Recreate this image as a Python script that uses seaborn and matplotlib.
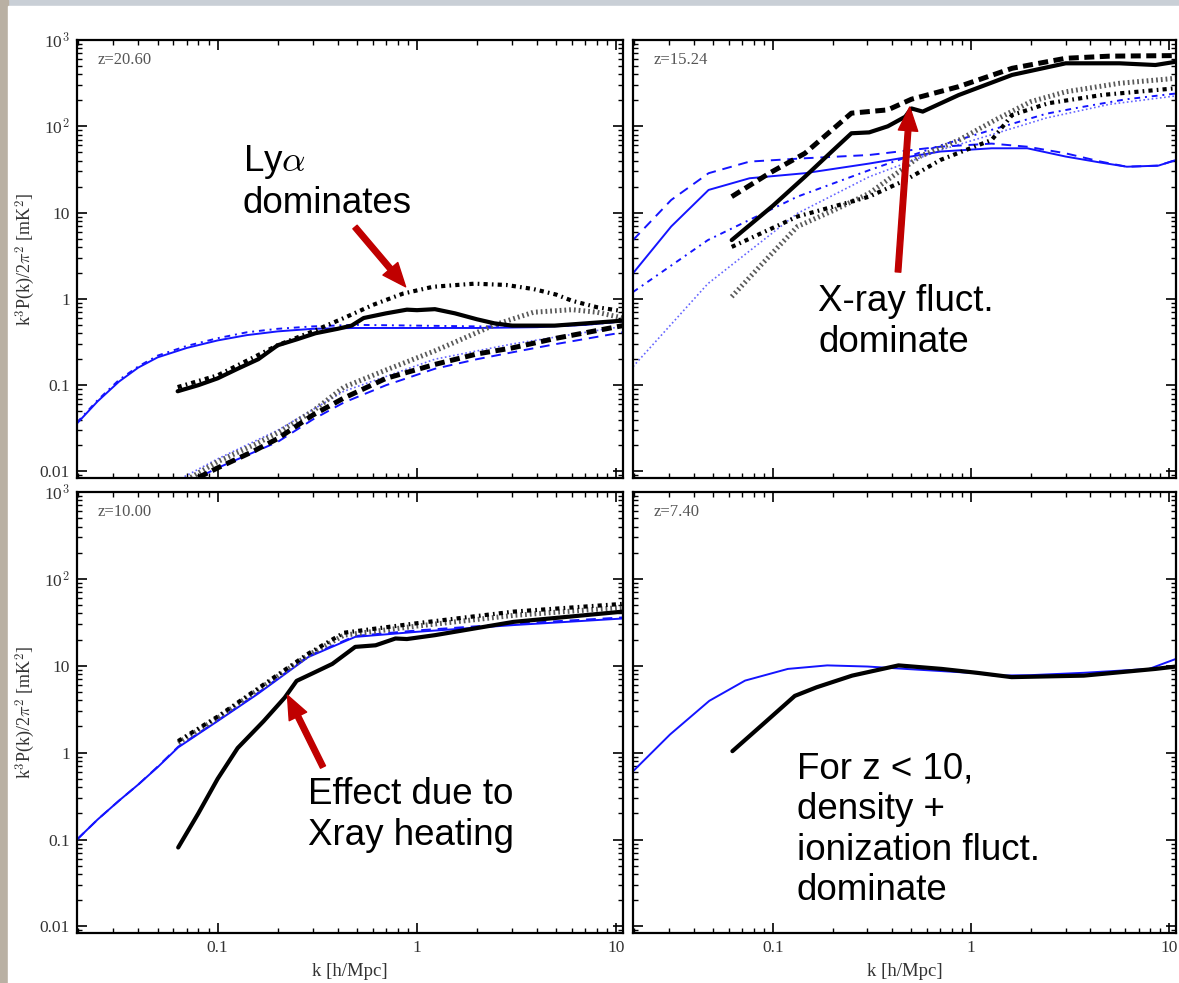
import matplotlib
matplotlib.use("Agg")
import matplotlib.pyplot as plt
from matplotlib.patches import Rectangle
from matplotlib.ticker import FixedLocator, LogLocator, NullFormatter
import seaborn as sns

# ---------------- data ----------------
panel_labels = ["z=20.60", "z=15.24", "z=10.00", "z=7.40"]
ytick_vals = [0.01, 0.1, 1, 10, 100, 1000]
ytick_labels = ["0.01", "0.1", "1", "10", "10$^2$", "10$^3$"]
xtick_vals = [0.1, 1, 10]
xtick_labels = ["0.1", "1", "10"]
xlabel_text = "k [h/Mpc]"
ylabel_text = "k$^3$P(k)/2$\\pi^2$ [mK$^2$]"

# --- panel 1 : z = 20.60
p1_blk_solid_k = [0.063, 0.08, 0.1, 0.126, 0.16, 0.2, 0.25, 0.31, 0.4, 0.47, 0.54, 0.7, 0.89, 1.0, 1.23, 1.55, 2.0, 2.45, 3.0, 4.9, 7.0, 10.8]
p1_blk_solid_P = [0.085, 0.10, 0.12, 0.155, 0.2, 0.29, 0.34, 0.40, 0.45, 0.49, 0.60, 0.68, 0.75, 0.74, 0.76, 0.68, 0.58, 0.52, 0.49, 0.49, 0.52, 0.56]
p1_blk_dashdot_k = [0.063, 0.1, 0.2, 0.3, 0.43, 0.6, 0.85, 1.2, 1.94, 2.8, 3.84, 5.0, 6.0, 8.0, 10.8]
p1_blk_dashdot_P = [0.095, 0.13, 0.29, 0.42, 0.6, 0.85, 1.15, 1.38, 1.5, 1.45, 1.3, 1.12, 0.95, 0.8, 0.72]
p1_blk_dot_k = [0.07, 0.1, 0.15, 0.2, 0.3, 0.43, 0.7, 1.23, 2.45, 3.84, 6.0, 8.0, 10.8]
p1_blk_dot_P = [0.008, 0.013, 0.02, 0.028, 0.05, 0.095, 0.15, 0.25, 0.5, 0.7, 0.75, 0.7, 0.6]
p1_blk_dash_k = [0.08, 0.1, 0.15, 0.2, 0.3, 0.43, 0.7, 1.23, 2.0, 3.0, 5.0, 10.8]
p1_blk_dash_P = [0.0085, 0.011, 0.017, 0.024, 0.045, 0.071, 0.12, 0.174, 0.23, 0.27, 0.35, 0.49]
p1_blu_solid_k = [0.0197, 0.025, 0.032, 0.04, 0.05, 0.07, 0.1, 0.14, 0.2, 0.3, 0.49, 1.0, 2.0, 4.0, 7.0, 10.8]
p1_blu_solid_P = [0.036, 0.065, 0.11, 0.16, 0.21, 0.27, 0.33, 0.38, 0.42, 0.45, 0.46, 0.46, 0.46, 0.47, 0.5, 0.55]
p1_blu_dashdot_P = [0.037, 0.067, 0.115, 0.165, 0.22, 0.285, 0.35, 0.41, 0.45, 0.48, 0.5, 0.49, 0.48, 0.48, 0.5, 0.55]
p1_blu_dash_k = [0.06, 0.08, 0.1, 0.2, 0.3, 0.43, 0.7, 1.23, 2.0, 3.0, 5.0, 10.8]
p1_blu_dash_P = [0.006, 0.0085, 0.011, 0.022, 0.04, 0.063, 0.1, 0.155, 0.2, 0.24, 0.3, 0.41]
p1_blu_dot_k = [0.06, 0.07, 0.1, 0.2, 0.43, 1.23, 3.0, 10.8]
p1_blu_dot_P = [0.0075, 0.009, 0.014, 0.03, 0.085, 0.2, 0.3, 0.48]

# --- panel 2 : z = 15.24
p2_blk_solid_k = [0.062, 0.1, 0.145, 0.2, 0.249, 0.306, 0.38, 0.465, 0.5, 0.57, 0.865, 1.61, 3.0, 5.6, 8.5, 10.8]
p2_blk_solid_P = [4.8, 12, 26, 52, 83, 85, 100, 129, 161, 148, 230, 394, 537, 537, 513, 560]
p2_blk_dash_k = [0.062, 0.096, 0.145, 0.249, 0.38, 0.5, 0.865, 1.61, 3.0, 5.0, 10.8]
p2_blk_dash_P = [15.3, 28.6, 48.6, 142, 155, 206, 288, 470, 614, 650, 660]
p2_blk_dashdot_k = [0.062, 0.133, 0.306, 0.47, 0.7, 1.27, 1.61, 2.45, 4.6, 10.8]
p2_blk_dashdot_P = [4.0, 9.0, 15.3, 24, 40.7, 69.5, 135, 185, 231, 276]
p2_blk_dot_k = [0.062, 0.089, 0.133, 0.204, 0.306, 0.55, 0.87, 1.32, 2.0, 3.0, 5.6, 10.8]
p2_blk_dot_P = [1.06, 2.6, 6.9, 10.7, 16.7, 44.6, 69.5, 118, 193, 251, 315, 360]
p2_blu_solid_k = [0.0197, 0.0307, 0.0474, 0.0763, 0.145, 0.306, 0.70, 1.27, 1.92, 3.0, 4.5, 6.1, 8.8, 10.8]
p2_blu_solid_P = [1.98, 6.9, 18.3, 25, 28.6, 37, 51, 55.6, 55.6, 44.6, 38, 34, 35, 40.7]
p2_blu_dash_P = [4.8, 14, 28.6, 39, 42.6, 46.5, 58, 63, 58, 48.6, 39, 34, 35, 40.7]
p2_blu_dashdot_k = [0.0197, 0.047, 0.133, 0.306, 0.7, 1.27, 2.4, 3.5, 6.0, 10.8]
p2_blu_dashdot_P = [1.2, 4.8, 15.3, 31, 60, 91, 140, 165, 205, 240]
p2_blu_dot_k = [0.0197, 0.047, 0.133, 0.306, 0.7, 1.27, 2.4, 5.0, 10.8]
p2_blu_dot_P = [0.164, 1.5, 9.8, 26, 53, 80, 125, 180, 225]

# --- panel 3 : z = 10.00
p3_blu_solid_k = [0.0197, 0.025, 0.032, 0.04, 0.05, 0.0634, 0.1, 0.158, 0.285, 0.49, 1.0, 3.05, 10.8]
p3_blu_solid_P = [0.1, 0.17, 0.28, 0.43, 0.68, 1.15, 2.31, 4.7, 12.6, 21.5, 24.6, 29.4, 35]
p3_blu_dash_P = [0.1, 0.17, 0.28, 0.43, 0.69, 1.17, 2.35, 4.8, 12.9, 22.0, 25.5, 30.5, 36]
p3_blk_solid_k = [0.0634, 0.08, 0.1, 0.126, 0.17, 0.217, 0.249, 0.3, 0.376, 0.49, 0.62, 0.78, 0.89, 1.23, 3.05, 10.8]
p3_blk_solid_P = [0.081, 0.2, 0.5, 1.13, 2.3, 4.3, 6.7, 8.2, 10.5, 16.5, 17.2, 20.6, 20.3, 22.5, 32, 42]
p3_blk_dashdot_k = [0.0634, 0.1, 0.158, 0.285, 0.43, 0.98, 3.05, 10.8]
p3_blk_dashdot_P = [1.36, 2.6, 5.4, 13.8, 24, 30.7, 42, 51.6]
p3_blk_dot_P = [1.3, 2.5, 5.2, 13.2, 22.5, 28.5, 38, 47]

# --- panel 4 : z = 7.40
p4_blu_solid_k = [0.0197, 0.0303, 0.0478, 0.0724, 0.119, 0.188, 0.3, 0.467, 0.7, 1.07, 1.32, 2.0, 3.7, 7.9, 10.8]
p4_blu_solid_P = [0.61, 1.62, 3.95, 6.75, 9.2, 10.1, 9.8, 9.2, 8.7, 8.2, 7.7, 7.8, 8.3, 9.2, 12]
p4_blk_solid_k = [0.0625, 0.089, 0.129, 0.166, 0.251, 0.43, 0.71, 1.07, 1.6, 3.7, 8.5, 10.8]
p4_blk_solid_P = [1.04, 2.12, 4.5, 5.65, 7.7, 10.1, 9.2, 8.3, 7.4, 7.7, 9.2, 9.8]

# annotations
note_texts = ["Ly$\\alpha$\ndominates", "X-ray fluct.\ndominate",
              "Effect due to\nXray heating", "For z < 10,\ndensity +\nionization fluct.\ndominate"]

# ---------------- styling ----------------
sns.set_theme(style="ticks")
plt.rcParams["font.family"] = ["Liberation Serif", "DejaVu Serif"]
plt.rcParams["mathtext.fontset"] = "cm"

BLUE = "#1414ff"
styles = {
    "blk_solid": dict(color="black", linewidth=3.0, linestyle="-"),
    "blk_dash": dict(color="black", linewidth=3.6, linestyle=(0, (2.0, 1.1))),
    "blk_dashdot": dict(color="black", linewidth=3.0, linestyle=(0, (1.0, 1.0, 0.4, 1.0))),
    "blk_dot": dict(color="#5a5a5a", linewidth=3.6, linestyle=(0, (0.35, 0.6))),
    "blu_solid": dict(color=BLUE, linewidth=1.4, linestyle="-"),
    "blu_dash": dict(color=BLUE, linewidth=1.4, linestyle=(0, (5, 3.5))),
    "blu_dashdot": dict(color=BLUE, linewidth=1.4, linestyle=(0, (3, 2.5, 1, 2.5))),
    "blu_dot": dict(color="#6565ff", linewidth=1.2, linestyle=(0, (1, 1.5))),
}

panels = [
    [("blu_dot", p1_blu_dot_k, p1_blu_dot_P), ("blu_dash", p1_blu_dash_k, p1_blu_dash_P),
     ("blu_dashdot", p1_blu_solid_k, p1_blu_dashdot_P), ("blu_solid", p1_blu_solid_k, p1_blu_solid_P),
     ("blk_dot", p1_blk_dot_k, p1_blk_dot_P), ("blk_dash", p1_blk_dash_k, p1_blk_dash_P),
     ("blk_dashdot", p1_blk_dashdot_k, p1_blk_dashdot_P), ("blk_solid", p1_blk_solid_k, p1_blk_solid_P)],
    [("blu_dot", p2_blu_dot_k, p2_blu_dot_P), ("blu_dash", p2_blu_solid_k, p2_blu_dash_P),
     ("blu_dashdot", p2_blu_dashdot_k, p2_blu_dashdot_P), ("blu_solid", p2_blu_solid_k, p2_blu_solid_P),
     ("blk_dot", p2_blk_dot_k, p2_blk_dot_P), ("blk_dash", p2_blk_dash_k, p2_blk_dash_P),
     ("blk_dashdot", p2_blk_dashdot_k, p2_blk_dashdot_P), ("blk_solid", p2_blk_solid_k, p2_blk_solid_P)],
    [("blu_dash", p3_blu_solid_k, p3_blu_dash_P), ("blu_solid", p3_blu_solid_k, p3_blu_solid_P),
     ("blk_dot", p3_blk_dashdot_k, p3_blk_dot_P), ("blk_dashdot", p3_blk_dashdot_k, p3_blk_dashdot_P),
     ("blk_solid", p3_blk_solid_k, p3_blk_solid_P)],
    [("blu_solid", p4_blu_solid_k, p4_blu_solid_P), ("blk_solid", p4_blk_solid_k, p4_blk_solid_P)],
]

W, H = 1179, 983
fig = plt.figure(figsize=(W / 100, H / 100), dpi=100)
fig.patch.set_facecolor("#c9cfd6")
fig.add_artist(Rectangle((0, 0), 8 / W, 1, transform=fig.transFigure, color="#b9b0a3", zorder=-2))
fig.add_artist(Rectangle((8 / W, 0), 1, 1 - 6 / H, transform=fig.transFigure, color="white", zorder=-1))

# axes boxes in pixels (left, top, right, bottom)
boxes = [(77, 40, 623, 478), (633, 40, 1176, 478), (77, 492, 623, 933), (633, 492, 1176, 933)]
TICK_COLOR = "#333333"
axes = []
for i, (l, t, r, b) in enumerate(boxes):
    ax = fig.add_axes([l / W, 1 - b / H, (r - l) / W, (b - t) / H])
    ax.set_facecolor("white")
    ax.set_xscale("log")
    ax.set_yscale("log")
    for name, kk, pp in panels[i]:
        sns.lineplot(x=kk, y=pp, ax=ax, estimator=None, sort=False, **styles[name])
    ax.set_xlim(0.0197, 10.8)
    ax.set_ylim(0.0084, 1000)
    ax.xaxis.set_major_locator(FixedLocator(xtick_vals))
    ax.xaxis.set_minor_locator(LogLocator(base=10, subs=range(2, 10), numticks=50))
    ax.xaxis.set_minor_formatter(NullFormatter())
    ax.yaxis.set_major_locator(FixedLocator(ytick_vals))
    ax.yaxis.set_minor_locator(LogLocator(base=10, subs=range(2, 10), numticks=50))
    ax.yaxis.set_minor_formatter(NullFormatter())
    ax.set_xticklabels(xtick_labels)
    ax.set_yticklabels(ytick_labels)
    ax.tick_params(which="both", direction="in", top=True, right=True, colors="black",
                   labelcolor=TICK_COLOR, labelsize=12.5)
    ax.tick_params(which="major", length=7, width=1.2, pad=5)
    ax.tick_params(which="minor", length=3.5, width=1.0)
    for sp in ax.spines.values():
        sp.set_linewidth(1.6)
        sp.set_color("black")
    if i in (1, 3):
        ax.tick_params(labelleft=False)
    else:
        ax.set_ylabel(ylabel_text, fontsize=13, color=TICK_COLOR)
        ax.yaxis.set_label_coords(-0.074, 0.5)
    if i in (0, 1):
        ax.tick_params(labelbottom=False)
        ax.set_xlabel("")
    else:
        ax.set_xlabel(xlabel_text, fontsize=13.5, color=TICK_COLOR)
        ax.xaxis.set_label_coords(0.5, -0.068)
    ax.text(0.038, 0.955, panel_labels[i], transform=ax.transAxes, fontsize=12,
            color="#555555", ha="left", va="center")
    axes.append(ax)

# ---------------- annotations ----------------
sans = ["Liberation Sans", "DejaVu Sans"]
note_pos = [(243, 182), (818, 322), (308, 815), (797, 830)]
for txt, (x, y) in zip(note_texts, note_pos):
    fig.text(x / W, 1 - y / H, txt, family=sans, fontsize=26.5, color="black",
             ha="left", va="center", linespacing=1.2)

RED = "#c00000"
arrow_specs = [
    (axes[0], (0.877, 1.38), (355, 227)),
    (axes[1], (0.49, 167), (898, 272)),
    (axes[2], (0.224, 4.58), (323, 767)),
]
for ax, tip, (tx, ty) in arrow_specs:
    ax.annotate("", xy=tip, xycoords="data", xytext=(tx, H - ty), textcoords="figure pixels",
                arrowprops=dict(facecolor=RED, edgecolor=RED, width=4, headwidth=14,
                                headlength=17, shrink=0), annotation_clip=False, zorder=10)

fig.savefig("out.png", dpi=100)
